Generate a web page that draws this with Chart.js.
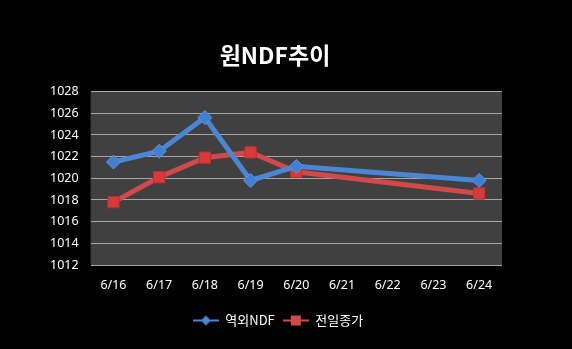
<!DOCTYPE html>
<html>
<head>
<meta charset="utf-8">
<script src="https://cdn.jsdelivr.net/npm/chart.js@4"></script>
<style>
    html, body { margin: 0; padding: 0; background: #000; }
    #wrap { width: 572px; height: 349px; }
</style>
</head>
<body>
<div id="wrap"><canvas id="ndfChart"></canvas></div>
<script>
// 날짜 / 시리즈 값
const dates = ['6/16', '6/17', '6/18', '6/19', '6/20', '6/21', '6/22', '6/23', '6/24'];
const offshoreNdf = [1021.5, 1022.5, 1025.6, 1019.8, 1021.1, null, null, null, 1019.8];
const prevClose = [1017.8, 1020.1, 1021.9, 1022.4, 1020.6, null, null, null, 1018.6];
const yTicks = [1012, 1014, 1016, 1018, 1020, 1022, 1024, 1026, 1028];

const BLUE = '#4a86d4';
const RED = '#d04a4a';

// Legend icon: short line with marker in the middle
function legendIcon(color, shape) {
    const c = document.createElement('canvas');
    c.width = 26;
    c.height = 12;
    const g = c.getContext('2d');
    g.strokeStyle = color;
    g.lineWidth = 2;
    g.beginPath();
    g.moveTo(0, 6);
    g.lineTo(26, 6);
    g.stroke();
    g.fillStyle = color;
    g.beginPath();
    if (shape === 'diamond') {
        g.moveTo(13, 1); g.lineTo(18, 6); g.lineTo(13, 11); g.lineTo(8, 6);
    } else {
        g.rect(8, 1, 10, 10);
    }
    g.closePath();
    g.fill();
    return c;
}

// Dark plot area background
const plotBg = {
    id: 'plotBg',
    beforeDraw(chart) {
        const a = chart.chartArea;
        const ctx = chart.ctx;
        ctx.save();
        ctx.fillStyle = '#000';
        ctx.fillRect(0, 0, chart.width, chart.height);
        ctx.fillStyle = '#404040';
        ctx.fillRect(a.left, a.top, a.right - a.left, a.bottom - a.top);
        ctx.restore();
    }
};

// Nudge title and legend a bit to the right (centred under whole canvas, not the padded box)
const boxShift = {
    id: 'boxShift',
    afterLayout(chart) {
        if (chart.legend) {
            chart.legend.left += 8;
            chart.legend.right += 8;
        }
        if (chart.titleBlock) {
            chart.titleBlock.left += 5;
            chart.titleBlock.right += 5;
        }
    }
};

const icons = [legendIcon(BLUE, 'diamond'), legendIcon(RED, 'square')];

new Chart(document.getElementById('ndfChart'), {
    type: 'line',
    data: {
        labels: dates,
        datasets: [
            {
                label: '역외NDF',
                data: offshoreNdf,
                borderColor: BLUE,
                backgroundColor: BLUE,
                borderWidth: 5,
                pointStyle: 'rectRot',
                pointRadius: 7,
                pointBackgroundColor: '#3f7fd4',
                pointBorderColor: '#5b95dd',
                pointBorderWidth: 1,
                spanGaps: true,
                tension: 0
            },
            {
                label: '전일종가',
                data: prevClose,
                borderColor: RED,
                backgroundColor: RED,
                borderWidth: 5,
                pointStyle: 'rect',
                pointRadius: 8,
                pointBackgroundColor: '#d83a3a',
                pointBorderColor: '#b83030',
                pointBorderWidth: 1,
                spanGaps: true,
                tension: 0
            }
        ]
    },
    options: {
        responsive: true,
        maintainAspectRatio: false,
        animation: false,
        layout: { padding: { left: 38, right: 70, top: 41, bottom: 12 } },
        plugins: {
            title: {
                display: true,
                text: '원NDF추이',
                color: '#fff',
                font: { family: "'Noto Sans CJK KR', sans-serif", size: 23, weight: 'bold' },
                padding: { top: 0, bottom: 23 }
            },
            legend: {
                position: 'bottom',
                labels: {
                    color: '#fff',
                    font: { family: "'Noto Sans CJK KR', sans-serif", size: 13 },
                    usePointStyle: true,
                    pointStyleWidth: 26,
                    padding: 8,
                    generateLabels(chart) {
                        return chart.data.datasets.map((ds, i) => ({
                            text: ds.label,
                            fontColor: '#fff',
                            pointStyle: icons[i],
                            hidden: false,
                            datasetIndex: i,
                            lineWidth: 0
                        }));
                    }
                }
            },
            tooltip: { enabled: false }
        },
        scales: {
            x: {
                offset: true,
                grid: { display: false, drawTicks: false },
                border: { display: false },
                ticks: {
                    color: '#fff',
                    padding: 13,
                    font: { family: "'Noto Sans', sans-serif", size: 12.5 }
                }
            },
            y: {
                min: 1012,
                max: 1028,
                afterBuildTicks(scale) {
                    scale.ticks = yTicks.map(v => ({ value: v }));
                },
                grid: { color: '#a6a6a6', lineWidth: 1, drawTicks: false },
                border: { display: false },
                ticks: {
                    color: '#fff',
                    padding: 12,
                    font: { family: "'Noto Sans', sans-serif", size: 12.5 },
                    callback: v => String(v)
                }
            }
        }
    },
    plugins: [plotBg, boxShift]
});
</script>
</body>
</html>
